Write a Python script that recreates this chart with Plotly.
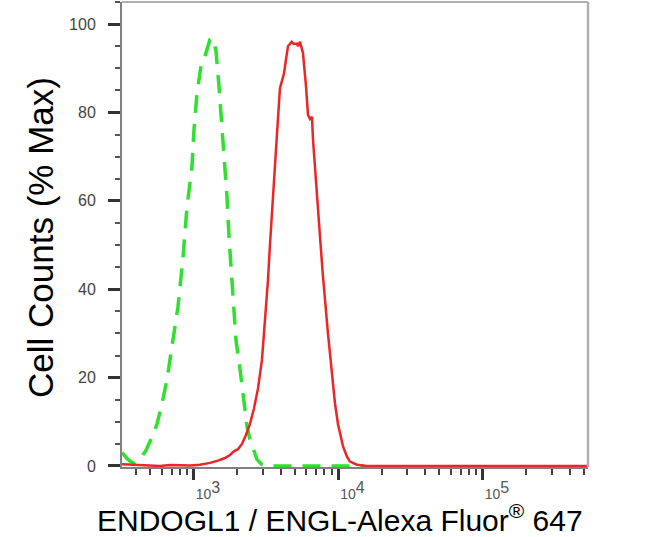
import plotly.graph_objects as go

# ---- data (fluorescence intensity, % of max) ----
control_x = [318, 349, 384, 423, 465, 512, 555, 600, 650, 716, 775, 839, 895, 969, 1000,
             1049, 1118, 1173, 1230, 1290, 1354, 1420, 1489, 1562, 1613, 1692, 1747, 1862,
             1953, 2082, 2184, 2327, 2441, 2560, 2729, 2956, 3357, 15000]
control_y = [3, 1.5, 0.5, 1.5, 3.5, 6.5, 9.5, 14, 19.5, 28.5, 36, 47, 58.7, 67.7, 76,
             84.3, 90.5, 92, 94.5, 96.5, 96.8, 94, 86, 77, 68.5, 61, 52, 37,
             28.5, 22, 16, 9, 6, 4, 1.5, 0.3, 0, 0]

sample_x = [318, 361, 423, 496, 582, 682, 800, 938, 1100, 1290, 1466, 1639, 1775, 1891, 2016,
            2149, 2290, 2441, 2602, 2773, 2956, 3100, 3252, 3357, 3466, 3578, 3752, 3937,
            4197, 4333, 4473, 4745, 4920, 5162, 5245, 5415, 5679, 5959, 6152, 6351, 6556,
            6661, 6878, 7214, 7447, 7810, 8066, 8458, 8735, 9161, 9459, 9920, 10240, 10743,
            11454, 12011, 13428, 15746, 26650, 533000]
sample_y = [0.4, 0.3, 0.1, 0, 0, 0.2, 0.2, 0.1, 0.3, 0.7, 1.2, 1.8, 2.5, 3.3, 3.8,
            5, 7, 9.5, 13, 17.5, 24, 32, 42, 50, 58, 65, 75, 85.5,
            88.8, 92, 95, 96, 95.5, 95.6, 95, 96, 93.5, 86, 79.5, 78.5, 79,
            74, 67, 58, 52, 43, 37, 30, 25.5, 18.5, 14.2, 9.5, 7.4, 4.5,
            2.1, 1.0, 0.3, 0, 0, 0]

x_major = [1e3, 1e4, 1e5]
x_major_exp = ["3", "4", "5"]
x_major_text = ['10<sup><span style="font-size:16px">%s</span></sup>' % e for e in x_major_exp]
x_minor = [m * 10 ** e for e in (2, 3, 4, 5) for m in range(2, 10) if 318 <= m * 10 ** e <= 533000]
y_major = [0, 20, 40, 60, 80, 100]

x_title = "ENDOGL1 / ENGL-Alexa Fluor<sup>®</sup> 647"
y_title = "Cell Counts (% Max)"

FONT = "Liberation Sans, Arial, sans-serif"

fig = go.Figure()
fig.add_trace(go.Scatter(x=control_x, y=control_y, mode="lines",
                         line=dict(color="#2fe02f", width=3.5, dash="18px,11px"),
                         hoverinfo="skip", showlegend=False))
fig.add_trace(go.Scatter(x=sample_x, y=sample_y, mode="lines",
                         line=dict(color="#ec2626", width=2.5),
                         hoverinfo="skip", showlegend=False))

fig.update_layout(
    width=650, height=537,
    margin=dict(l=122, r=62, t=2, b=70),
    paper_bgcolor="white", plot_bgcolor="white",
    font=dict(family=FONT, color="#000"),
    xaxis=dict(type="log", range=[2.502, 5.727], showgrid=False, zeroline=False,
               showline=True, linecolor="#808080", linewidth=2,
               tickmode="array", tickvals=x_major, ticktext=x_major_text,
               ticks="outside", ticklen=11, tickwidth=3, tickcolor="#333",
               tickfont=dict(family=FONT, size=14, color="#555"),
               ticklabelshift=14, ticklabelstandoff=2,
               minor=dict(tickvals=x_minor, ticks="outside", ticklen=6, tickwidth=1.5,
                          tickcolor="#444", showgrid=False)),
    yaxis=dict(range=[-0.23, 105], showgrid=False, zeroline=False,
               showline=True, linecolor="#808080", linewidth=2,
               tickmode="array", tickvals=y_major,
               ticks="outside", ticklen=12, tickwidth=3, tickcolor="#333",
               tickfont=dict(family=FONT, size=16, color="#444"),
               ticklabelstandoff=9,
               minor=dict(dtick=5, ticks="outside", ticklen=5, tickwidth=1.5,
                          tickcolor="#555", showgrid=False)),
    shapes=[
        dict(type="line", xref="paper", yref="paper", x0=0, x1=1, y0=1, y1=1,
             line=dict(color="#b0b0b0", width=2)),
        dict(type="line", xref="paper", yref="paper", x0=1, x1=1, y0=0, y1=1,
             line=dict(color="#b0b0b0", width=2.5)),
    ],
    annotations=[
        dict(text=x_title, xref="paper", yref="paper", x=0.468, y=-0.109,
             xanchor="center", yanchor="middle", showarrow=False,
             font=dict(family=FONT, size=30, color="#000")),
        dict(text=y_title, xref="paper", yref="paper", x=-0.176, y=0.4946,
             xanchor="center", yanchor="middle", textangle=-90, showarrow=False,
             font=dict(family=FONT, size=35, color="#000")),
    ],
)

fig.write_html("out.html", config={"displayModeBar": False},
               post_script="document.body.style.margin='0px';document.body.style.padding='0px';")
